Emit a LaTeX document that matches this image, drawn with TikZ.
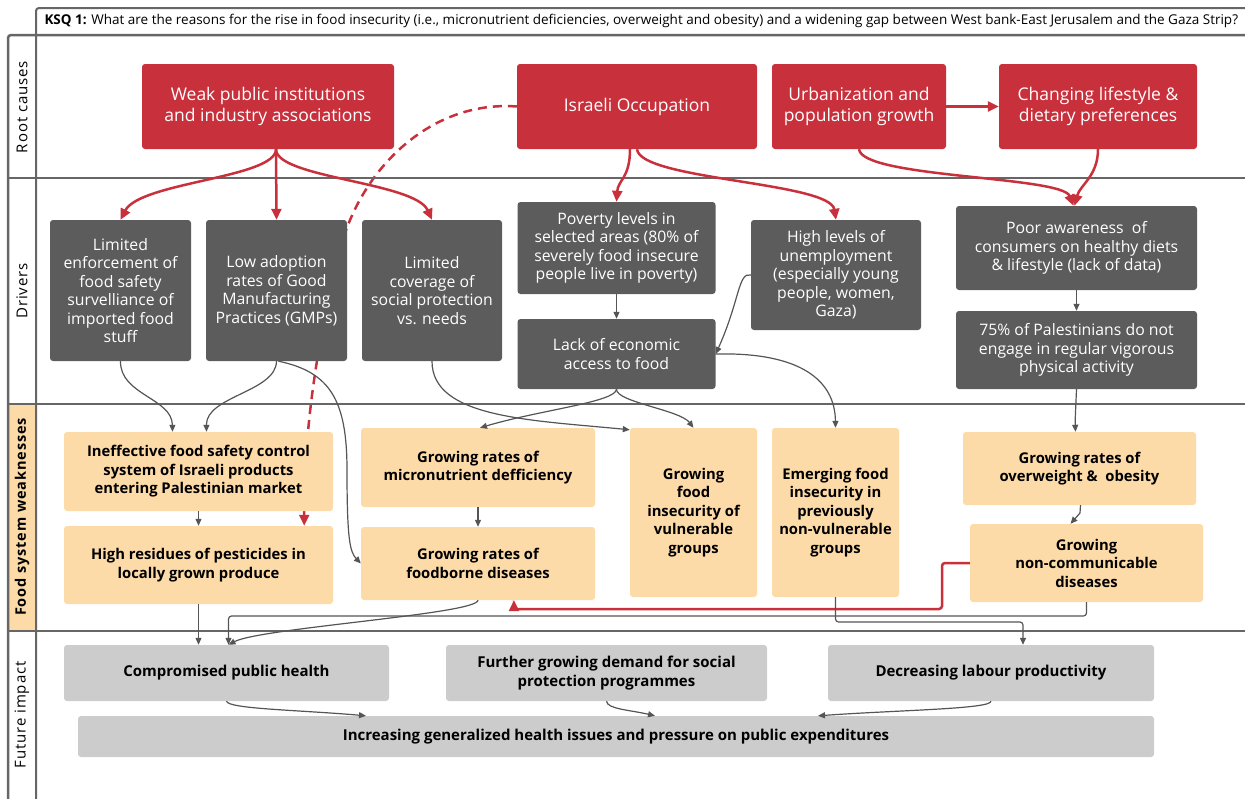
\documentclass[tikz,border=0pt]{standalone}
\usepackage{fontspec}
\setmainfont{Open Sans}
\newfontfamily\lanefont[LetterSpace=6]{Open Sans}
\usetikzlibrary{arrows.meta,backgrounds,calc}

\definecolor{rootred}{HTML}{C8303C}
\definecolor{drvgray}{HTML}{5C5C5C}
\definecolor{weakorange}{HTML}{FDDBA8}
\definecolor{impgray}{HTML}{CCCCCC}
\definecolor{lanegray}{HTML}{666666}
\definecolor{linegray}{HTML}{555555}

\tikzset{
  rootbox/.style={fill=rootred, text=white, rounded corners=3, align=center,
    font=\fontsize{17.5}{21}\selectfont},
  drvbox/.style={fill=drvgray, text=white, rounded corners=3, align=center,
    font=\fontsize{15.8}{18.5}\selectfont},
  weakbox/.style={fill=weakorange, text=black, rounded corners=3, align=center,
    font=\bfseries\fontsize{14.8}{18.5}\selectfont},
  impbox/.style={fill=impgray, text=black, rounded corners=3, align=center,
    font=\bfseries\fontsize{15}{19.5}\selectfont},
  lane/.style={draw=lanegray, line width=2.5},
  lanelabel/.style={rotate=90, font=\lanefont\fontsize{15}{17}\selectfont},
  redarrow/.style={draw=rootred, line width=2.5, -{Triangle[length=11,width=10]}},
  grayarrow/.style={draw=linegray, line width=1.2, -{Triangle[length=7,width=6]}}
}

\begin{document}
\begin{tikzpicture}[x=1pt, y=-1pt]
  \useasboundingbox (0,0) rectangle (1245,798);

  % Swim lanes
  \fill[weakorange] (8,404) rectangle (36,631);
  \draw[lane, line width=2, rounded corners=3] (1247,8) -- (36,8) -- (36,800);
  \draw[lane, rounded corners=3] (1247,35) -- (8,35) -- (8,800);
  \draw[lane] (8,178) -- (1247,178);
  \draw[lane] (8,404) -- (1247,404);
  \draw[lane] (8,631) -- (1247,631);
  \node[anchor=west, font=\fontsize{13.5}{15}\selectfont] (ksq) at (41,21)
    {\textbf{KSQ 1:} What are the reasons for the rise in food insecurity (i.e., micronutrient deficiencies, overweight and obesity) and a widening gap between West bank-East Jerusalem and the Gaza Strip?};
  \node[lanelabel] (lroot) at (22,107) {Root causes};
  \node[lanelabel] (ldrv) at (22,291) {Drivers};
  \node[lanelabel, font=\lanefont\bfseries\fontsize{14.5}{16}\selectfont] (lweak) at (22,517) {Food system weaknesses};
  \node[lanelabel] (limp) at (22,715) {Future impact};

  % Root causes
  \node[rootbox, minimum width=252, minimum height=85] (weak) at (268,106.5) {Weak public institutions\\and industry associations};
  \node[rootbox, minimum width=240, minimum height=85] (occ) at (637,106.5) {Israeli Occupation};
  \node[rootbox, minimum width=174, minimum height=85] (urb) at (859,106.5) {Urbanization and\\population growth};
  \node[rootbox, minimum width=198, minimum height=85] (chg) at (1098,106.5) {Changing lifestyle \&\\dietary preferences};

  % Drivers
  \node[drvbox, minimum width=141, minimum height=141] (enf) at (120.5,290.5) {Limited\\enforcement of\\food safety\\survelliance of\\imported food\\stuff};
  \node[drvbox, minimum width=141, minimum height=141] (gmp) at (276.5,290.5) {Low adoption\\rates of Good\\Manufacturing\\Practices (GMPs)};
  \node[drvbox, minimum width=140, minimum height=141] (cov) at (432,290.5) {Limited\\coverage of\\social protection\\vs. needs};
  \node[drvbox, minimum width=198, minimum height=92] (pov) at (616.5,248) {Poverty levels in\\selected areas (80\% of\\severely food insecure\\people live in poverty)};
  \node[drvbox, minimum width=198, minimum height=70] (lack) at (616.5,354) {Lack of economic\\access to food};
  \node[drvbox, minimum width=170, minimum height=110] (unemp) at (836,275) {High levels of\\unemployment\\(especially young\\people, women,\\Gaza)};
  \node[drvbox, minimum width=241, minimum height=84] (aware) at (1076.5,248) {Poor awareness~~of\\consumers on healthy diets\\\& lifestyle (lack of data)};
  \node[drvbox, minimum width=241, minimum height=78] (phys) at (1076.5,350) {75\% of Palestinians do not\\engage in regular vigorous\\physical activity};

  % Food system weaknesses
  \node[weakbox, minimum width=269, minimum height=79] (ineff) at (198.5,471.5) {Ineffective food safety control\\system of Israeli products\\entering Palestinian market};
  \node[weakbox, minimum width=269, minimum height=78] (resid) at (198.5,565) {High residues of pesticides in\\locally grown produce};
  \node[weakbox, minimum width=234, minimum height=79] (micro) at (478,467.5) {Growing rates of\\micronutrient defficiency};
  \node[weakbox, minimum width=234, minimum height=73] (fb) at (478,563.5) {Growing rates of\\foodborne diseases};
  \node[weakbox, minimum width=127, minimum height=169] (vuln) at (693.5,512.5) {Growing\\food\\insecurity of\\vulnerable\\groups};
  \node[weakbox, minimum width=127, minimum height=169] (emerg) at (835.5,512.5) {Emerging food\\insecurity in\\previously\\non-vulnerable\\groups};
  \node[weakbox, minimum width=233, minimum height=73] (obes) at (1079.5,468.5) {Growing rates of\\overweight \&~~obesity};
  \node[weakbox, minimum width=233, minimum height=78] (ncd) at (1086.5,563) {Growing\\non-communicable\\diseases};

  % Future impact
  \node[impbox, minimum width=325, minimum height=56] (health) at (226.5,673) {Compromised public health};
  \node[impbox, minimum width=321, minimum height=56] (demand) at (606.5,673) {Further growing demand for social\\protection programmes};
  \node[impbox, minimum width=326, minimum height=56] (labour) at (991,673) {Decreasing labour productivity};
  \node[impbox, minimum width=1076, minimum height=41] (incr) at (616,736.5) {Increasing generalized health issues and pressure on public expenditures};

  % red links
  \begin{pgfonlayer}{background}
    \draw[redarrow, dashed, dash pattern=on 9 off 6] (occ.west) .. controls (430,100) and (360,170) .. (340,250)
      .. controls (320,330) and (304,420) .. ([xshift=-29]resid.north east);
  \end{pgfonlayer}
  \draw[redarrow] ([xshift=8]weak.south) .. controls (276,178) and (140,182) .. (enf.north);
  \draw[redarrow] ([xshift=8]weak.south) -- (gmp.north);
  \draw[redarrow] ([xshift=8]weak.south) .. controls (276,178) and (415,182) .. (cov.north);
  \draw[redarrow] ([xshift=-7]occ.south) .. controls (630,178) and (618,180) .. (pov.north);
  \draw[redarrow] (occ.south) .. controls (640,180) and (830,182) .. (unemp.north);
  \draw[redarrow] (urb.east) -- (chg.west);
  \draw[redarrow] (urb.south) .. controls (862,178) and (1062,176) .. ([xshift=-3]aware.north);
  \draw[redarrow] (chg.south) .. controls (1098,176) and (1080,185) .. ([xshift=-2]aware.north);
  \draw[redarrow, rounded corners=3] (ncd.west) -| (942,609) -- (514,609) -- ([xshift=36]fb.south);

  % gray links
  \draw[grayarrow] (enf.south) .. controls (120,395) and (172,398) .. ([xshift=-26]ineff.north);
  \draw[grayarrow] (gmp.south) .. controls (276,392) and (206,396) .. ([xshift=8]ineff.north);
  \draw[grayarrow] ([xshift=2]gmp.south) .. controls (330,372) and (347,400) .. (347,470)
    .. controls (347,540) and (350,552) .. (fb.west);
  \draw[grayarrow] (cov.south) .. controls (432,418) and (530,420) .. ([yshift=-2]vuln.north west);
  \draw[grayarrow] (lack.south) .. controls (616,402) and (540,410) .. ([xshift=2]micro.north);
  \draw[grayarrow] (lack.south) .. controls (616,402) and (680,410) .. (vuln.north);
  \draw[grayarrow] (lack.east) .. controls (800,352) and (835,380) .. (emerg.north);
  \draw[grayarrow] (unemp.west) .. controls (738,272) and (740,300) .. (lack.east);
  \draw[grayarrow] (pov.south) -- (lack.north);
  \draw[grayarrow] (aware.south) -- (phys.north);
  \draw[grayarrow] (phys.south) .. controls (1076,402) and (1075,420) .. ([xshift=-4]obes.north);
  \draw[grayarrow] ([xshift=1]obes.south) -- (1080,513) -- ([xshift=-16]ncd.north);
  \draw[grayarrow] (ineff.south) -- (resid.north);
  \draw[grayarrow] (micro.south) -- (fb.north);
  \draw[grayarrow] (resid.south) -- ([xshift=-28]health.north);
  \draw[grayarrow] (fb.south) .. controls (478,614) and (260,628) .. ([xshift=2]health.north);
  \draw[grayarrow, rounded corners=3] (ncd.south) |- (228.5,616) -- ([xshift=2]health.north);
  \draw[grayarrow, rounded corners=3] (emerg.south) |- (1023,622) -- ([xshift=32]labour.north);
  \draw[grayarrow] (health.south) .. controls (228,709) and (300,710) .. ([xshift=-250]incr.north);
  \draw[grayarrow] (demand.south) .. controls (607,709) and (630,710) .. ([xshift=39]incr.north);
  \draw[grayarrow] (labour.south) .. controls (991,709) and (900,710) .. ([xshift=202]incr.north);
\end{tikzpicture}
\end{document}
